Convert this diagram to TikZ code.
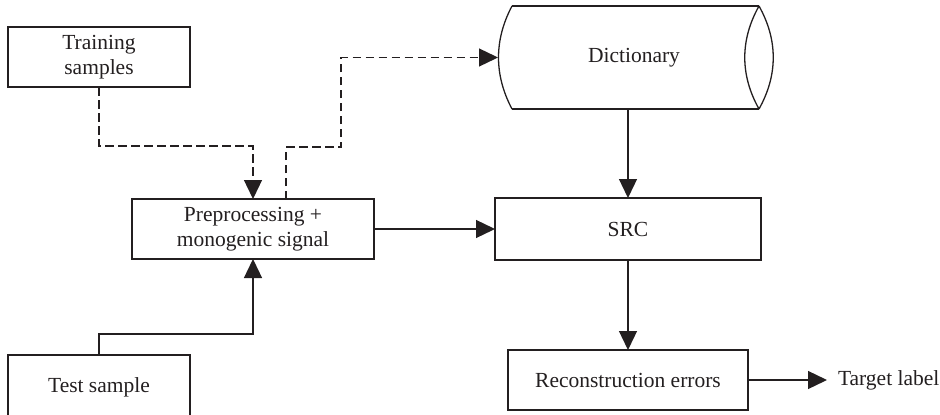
\documentclass[tikz,border=0pt]{standalone}
\usepackage{fontspec}
\setmainfont{Liberation Serif}
\usetikzlibrary{arrows.meta}
\definecolor{ink}{HTML}{231F20}
\begin{document}
\begin{tikzpicture}[x=1pt,y=-1pt,
  line width=1.3pt, draw=ink, text=ink,
  every node/.style={font=\fontsize{21.5}{25.5}\selectfont, align=center, inner sep=0pt, outer sep=0pt},
  boxnode/.style={draw, rectangle},
  arr/.style={-{Triangle[length=19pt,width=18pt]}},
  dsh/.style={dash pattern=on 8.5pt off 4.5pt}]
\useasboundingbox (0,0) rectangle (940,415);
\clip (0,0) rectangle (940,415);
\node[boxnode, minimum width=182pt, minimum height=60pt] (train) at (99,57) {Training\\samples};
\node[boxnode, minimum width=242pt, minimum height=60pt] (pre) at (253,229) {Preprocessing +\\monogenic signal};
\node[boxnode, minimum width=182pt, minimum height=64pt] (test) at (99,387) {Test sample};
\node[minimum width=274pt, minimum height=103pt] (dict) at (635,57.5) {};
\node at (634,57.5) {Dictionary};
\node[boxnode, minimum width=266pt, minimum height=62pt] (src) at (628,229) {SRC};
\node[boxnode, minimum width=240pt, minimum height=60pt] (recon) at (628,380) {Reconstruction errors};
\node[anchor=west, inner xsep=11pt] (target) at (827,380) {Target label};
% dictionary shape
\draw (512,6) -- (759,6) (512,109) -- (759,109);
\draw (512,6) .. controls (494,40) and (494,75) .. (512,109);
\draw (759,6) .. controls (740,40) and (740,75) .. (759,109);
\draw (759,6) .. controls (778,40) and (778,75) .. (759,109);
% connectors
\coordinate (j1) at (253,146);
\coordinate (j2) at (286,147);
\coordinate (j3) at (341,147);
\coordinate (j4) at (253,334);
\draw[arr, dsh] (train.south) |- (j1) -- (pre.north);
\draw[arr, dsh] (j2 |- pre.north) -- (j2) -- (j3) |- (dict.west);
\draw[arr] (test.north) |- (j4) -- (pre.south);
\draw[arr] (pre.east) -- (src.west);
\draw[arr] (src.north |- dict.south) -- (src.north);
\draw[arr] (src.south) -- (recon.north);
\draw[arr] (recon.east) -- (target.west);
\end{tikzpicture}
\end{document}
